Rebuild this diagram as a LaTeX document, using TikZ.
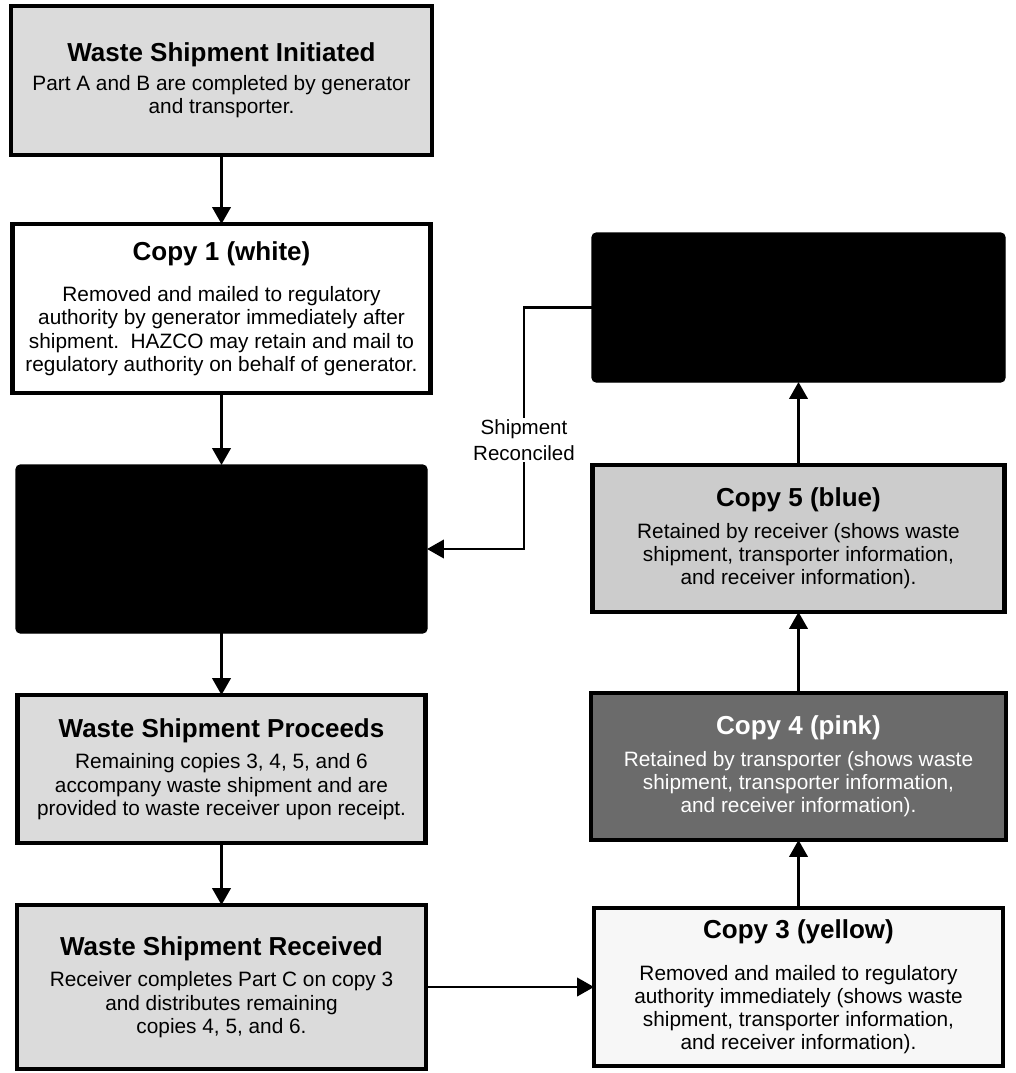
\documentclass[tikz,border=0pt]{standalone}
\usepackage{fontspec}
\setmainfont{Liberation Sans}
\usetikzlibrary{positioning,arrows.meta}

\definecolor{stipple}{gray}{0.86}
\definecolor{stippleblue}{gray}{0.80}
\definecolor{stipplepink}{gray}{0.42}
\definecolor{paleyellow}{gray}{0.97}

\newcommand{\boxtitle}[1]{{\fontsize{18.5}{22}\selectfont\bfseries #1}}

\begin{document}
\begin{tikzpicture}[node distance=1.6cm, auto,
	formbox/.style={rectangle,draw=black,line width=3pt,align=center,outer sep=0pt,
		font=\fontsize{14.8}{16.5}\selectfont,inner sep=4pt},
	hidebox/.style={rectangle,draw=black,fill=black,rounded corners=3pt,line width=0.8pt,outer sep=0pt},
	flow/.style={-{Triangle[length=12pt,width=13pt]},line width=2pt}]
	\useasboundingbox (0,0) rectangle (25.375,-26.825);
	% left column
	\node[formbox,fill=stipple,minimum width=10.525cm,minimum height=3.725cm] (initiated) at (5.5375,-2.0125)
		{\boxtitle{Waste Shipment Initiated}\\[4pt] Part A and B are completed by generator\\and transporter.};
	\node[formbox,fill=white,minimum width=10.45cm,minimum height=4.225cm] (copyone) [below=1.725cm of initiated]
		{\boxtitle{Copy 1 (white)}\\[13pt] Removed and mailed to regulatory\\authority by generator immediately after\\shipment.\ \ HAZCO may retain and mail to\\regulatory authority on behalf of generator.};
	\node[hidebox,minimum width=10.275cm,minimum height=4.2cm] (hiddenone) [below=1.8cm of copyone] {};
	\node[formbox,fill=stipple,minimum width=10.2cm,minimum height=3.7cm] (proceeds) [below=1.55cm of hiddenone]
		{\boxtitle{Waste Shipment Proceeds}\\[6pt] Remaining copies 3, 4, 5, and 6\\accompany waste shipment and are\\provided to waste receiver upon receipt.};
	\node[formbox,fill=stipple,minimum width=10.225cm,minimum height=4.1cm] (received) [below=1.55cm of proceeds]
		{\boxtitle{Waste Shipment Received}\\[6pt] Receiver completes Part C on copy 3\\and distributes remaining\\copies 4, 5, and 6.};
	% right column
	\node[formbox,fill=paleyellow,minimum width=10.225cm,minimum height=3.95cm] (copythree) [right=4.2cm of received]
		{\boxtitle{Copy 3 (yellow)}\\[13pt] Removed and mailed to regulatory\\authority immediately (shows waste\\shipment, transporter information,\\and receiver information).};
	\node[formbox,fill=stipplepink,text=white,minimum width=10.375cm,minimum height=3.675cm] (copyfour) [above=1.7cm of copythree]
		{\boxtitle{Copy 4 (pink)}\\[6pt] Retained by transporter (shows waste\\shipment, transporter information,\\and receiver information).};
	\node[formbox,fill=stippleblue,minimum width=10.3cm,minimum height=3.675cm] (copyfive) [above=2.025cm of copyfour]
		{\boxtitle{Copy 5 (blue)}\\[6pt] Retained by receiver (shows waste\\shipment, transporter information,\\and receiver information).};
	\node[hidebox,minimum width=10.325cm,minimum height=3.725cm] (hiddentwo) [above=2.075cm of copyfive] {};
	\node[fill=white,inner sep=1pt,align=center,font=\fontsize{14.6}{18.5}\selectfont] (reconciled) at (13.1,-11.0) {Shipment\\Reconciled};
	% connectors
	\path[flow] (initiated) edge (copyone);
	\path[flow] (copyone) edge (hiddenone);
	\path[flow] (hiddenone) edge (proceeds);
	\path[flow] (proceeds) edge (received);
	\path[flow] (received) edge (copythree);
	\path[flow] (copythree) edge (copyfour);
	\path[flow] (copyfour) edge (copyfive);
	\path[flow] (copyfive) edge (hiddentwo);
	\draw[line width=2pt] (hiddentwo.west) -| (reconciled.north);
	\draw[flow] (reconciled.south) |- (hiddenone.east);
\end{tikzpicture}
\end{document}
